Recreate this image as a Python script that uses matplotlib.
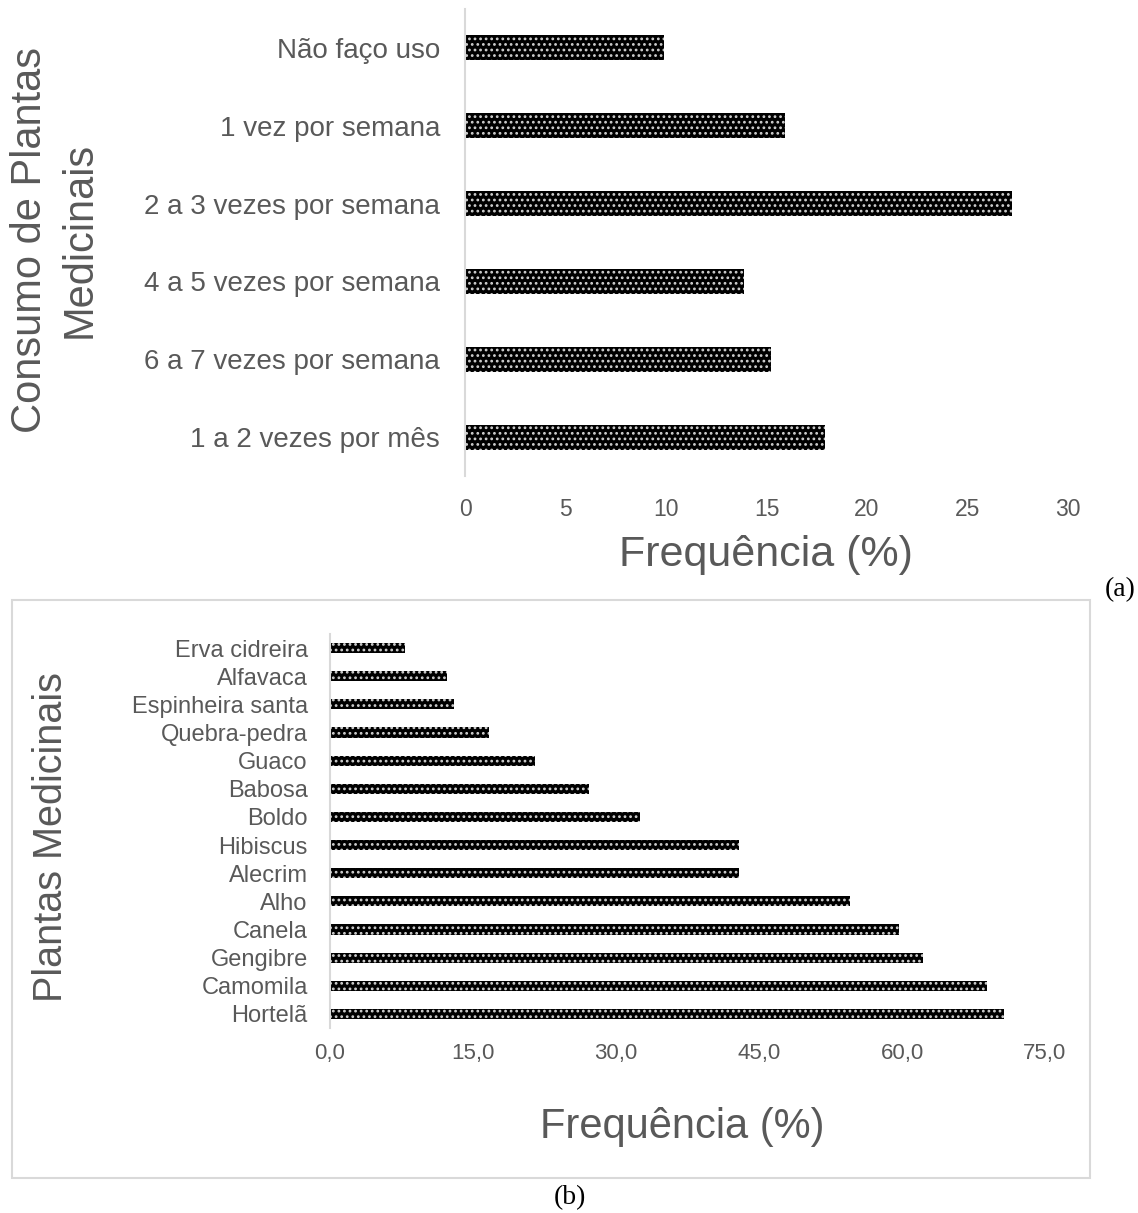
import matplotlib
matplotlib.use('Agg')
import matplotlib.pyplot as plt
from matplotlib.patches import Rectangle

# (a) consumo de plantas medicinais
consumo_labels = ['Não faço uso', '1 vez por semana', '2 a 3 vezes por semana',
                  '4 a 5 vezes por semana', '6 a 7 vezes por semana', '1 a 2 vezes por mês']
consumo_freq = [9.9, 15.9, 27.2, 13.9, 15.2, 17.9]
consumo_ticks = [0, 5, 10, 15, 20, 25, 30]

# (b) plantas medicinais
plantas_labels = ['Erva cidreira', 'Alfavaca', 'Espinheira santa', 'Quebra-pedra', 'Guaco',
                  'Babosa', 'Boldo', 'Hibiscus', 'Alecrim', 'Alho', 'Canela', 'Gengibre',
                  'Camomila', 'Hortelã']
plantas_freq = [7.9, 12.3, 13.0, 16.7, 21.5, 27.2, 32.5, 42.9, 42.9, 54.5, 59.7, 62.2, 68.9, 70.7]
plantas_ticks = [0, 15, 30, 45, 60, 75]

grey = '#595959'
axis_grey = '#d9d9d9'
plt.rcParams['font.family'] = ['Liberation Sans', 'DejaVu Sans']
plt.rcParams['hatch.linewidth'] = 1.2

fig = plt.figure(figsize=(11.38, 12.13), dpi=100)

def style_axes(ax):
  for s in ['top', 'right', 'bottom']:
    ax.spines[s].set_visible(False)
  ax.spines['left'].set_color(axis_grey)
  ax.spines['left'].set_linewidth(1.5)
  ax.tick_params(length=0, colors=grey)

# --- chart (a)
ax1 = fig.add_axes([465/1138, 1-476/1213, 603/1138, 467/1213])
ax1.barh(range(len(consumo_labels)), consumo_freq, height=0.32, color='black',
         edgecolor='#d0d0d0', linewidth=0, hatch='...')
ax1.set_yticks(range(len(consumo_labels)))
ax1.set_yticklabels(consumo_labels, fontsize=20)
ax1.set_ylim(len(consumo_labels)-0.5, -0.5)
ax1.set_xlim(0, 30)
ax1.set_xticks(consumo_ticks)
ax1.set_xticklabels([str(t) for t in consumo_ticks], fontsize=16.5)
style_axes(ax1)
ax1.tick_params(axis='y', pad=18)
ax1.tick_params(axis='x', pad=16)
ax1.set_xlabel('Frequência (%)', fontsize=31, color=grey, va='center')
ax1.xaxis.set_label_coords(0.499, -0.169)
ax1.set_ylabel('Consumo de Plantas\nMedicinais', fontsize=30, color=grey,
               va='center', ha='center', linespacing=1.3)
ax1.yaxis.set_label_coords(-0.68, 0.505)

# --- chart (b)
ax2 = fig.add_axes([330/1138, 1-1028/1213, 715/1138, 394/1213])
ax2.barh(range(len(plantas_labels)), plantas_freq, height=0.36, color='black',
         edgecolor='#d0d0d0', linewidth=0, hatch='...')
ax2.set_yticks(range(len(plantas_labels)))
ax2.set_yticklabels(plantas_labels, fontsize=17)
ax2.set_ylim(len(plantas_labels)-0.5, -0.5)
ax2.set_xlim(0, 75)
ax2.set_xticks(plantas_ticks)
ax2.set_xticklabels([('%.1f' % t).replace('.', ',') for t in plantas_ticks], fontsize=16)
style_axes(ax2)
ax2.tick_params(axis='y', pad=16)
ax2.tick_params(axis='x', pad=11)
ax2.set_xlabel('Frequência (%)', fontsize=30, color=grey, va='center')
ax2.xaxis.set_label_coords(0.492, -0.251)
ax2.set_ylabel('Plantas Medicinais', fontsize=28.5, color=grey, va='center', ha='center')
ax2.yaxis.set_label_coords(-0.39, 0.485)

# frame around (b)
fig.patches.append(Rectangle((12/1138, 1-1178/1213), 1078/1138, 578/1213,
                             transform=fig.transFigure, fill=False,
                             edgecolor=axis_grey, linewidth=1.5))

# captions
fig.text(1120/1138, 1-590/1213, '(a)', family='Liberation Serif', fontsize=20,
         ha='center', va='center')
fig.text(570/1138, 1-1198/1213, '(b)', family='Liberation Serif', fontsize=20,
         ha='center', va='center')

plt.savefig('out.png', dpi=100)
